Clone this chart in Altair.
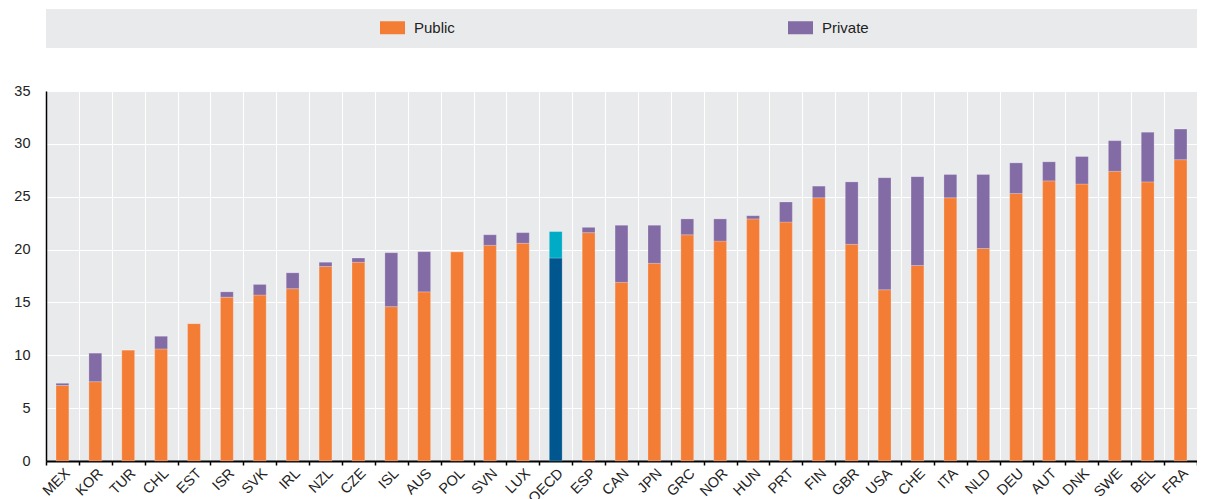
import altair as alt
import pandas as pd

countries = ["MEX", "KOR", "TUR", "CHL", "EST", "ISR", "SVK", "IRL", "NZL", "CZE",
             "ISL", "AUS", "POL", "SVN", "LUX", "OECD", "ESP", "CAN", "JPN", "GRC",
             "NOR", "HUN", "PRT", "FIN", "GBR", "USA", "CHE", "ITA", "NLD", "DEU",
             "AUT", "DNK", "SWE", "BEL", "FRA"]
public = [7.15, 7.5, 10.5, 10.6, 13.0, 15.5, 15.7, 16.3, 18.4, 18.8,
          14.6, 16.0, 19.8, 20.4, 20.6, 19.2, 21.6, 16.9, 18.7, 21.4,
          20.8, 22.9, 22.6, 24.9, 20.5, 16.2, 18.5, 24.9, 20.1, 25.3,
          26.5, 26.2, 27.4, 26.4, 28.5]
private = [0.2, 2.7, 0.0, 1.2, 0.0, 0.5, 1.0, 1.5, 0.4, 0.4,
           5.1, 3.8, 0.0, 1.0, 1.0, 2.5, 0.5, 5.4, 3.6, 1.5,
           2.1, 0.3, 1.9, 1.1, 5.9, 10.6, 8.4, 2.2, 7.0, 2.9,
           1.8, 2.6, 2.9, 4.7, 2.9]
series = ["Public", "Private"]
keys = ["Public", "Private", "OECD Public", "OECD Private"]
colors = ["#F47D36", "#836BA5", "#00568F", "#00ABC6"]

rows = []
for c, pu, pr in zip(countries, public, private):
    prefix = "OECD " if c == "OECD" else ""
    for i, (s, v) in enumerate(zip(series, [pu, pr])):
        rows.append({"country": c, "key": prefix + s, "value": v, "ord": i})
df = pd.DataFrame(rows)

W, H = 1151, 370
FONT = "Liberation Sans"

bg = alt.Chart(pd.DataFrame({"a": [0]})).mark_rect(color="#E9EAEC").encode(
    x=alt.value(0), x2=alt.value(W), y=alt.value(-82), y2=alt.value(-43)
)

bars = alt.Chart(df).mark_bar(
    width=alt.RelativeBandSize(0.39), stroke="#ffffff", strokeWidth=0.6, strokeOpacity=0.35
).encode(
    x=alt.X("country:N", sort=countries, title=None,
            scale=alt.Scale(paddingInner=0, paddingOuter=0),
            axis=alt.Axis(labelAngle=-45, labelAlign="right", labelBaseline="top",
                          tickBand="extent", grid=True, gridColor="#ffffff", gridWidth=1,
                          domainColor="#000000", domainWidth=2, tickColor="#000000",
                          tickSize=4, tickWidth=1.5, labelPadding=1, labelFontSize=14.5,
                          labelColor="#222222", labelFont=FONT)),
    y=alt.Y("value:Q", stack="zero", title=None,
            scale=alt.Scale(domain=[0, 35], nice=False),
            axis=alt.Axis(values=[0, 5, 10, 15, 20, 25, 30, 35], grid=True,
                          gridColor="#ffffff", gridWidth=1, domainColor="#000000",
                          domainWidth=1.5, tickSize=0, labelPadding=16, labelFontSize=14.5,
                          labelColor="#222222", labelFont=FONT)),
    color=alt.Color("key:N", scale=alt.Scale(domain=keys, range=colors),
                    legend=alt.Legend(values=series, title=None, orient="none",
                                      legendX=334, legendY=-76, direction="horizontal",
                                      symbolType="M-1,-0.52H1V0.52H-1Z", symbolSize=625,
                                      symbolStrokeWidth=0, labelFontSize=15, labelFont=FONT,
                                      labelColor="#222222", labelOffset=9,
                                      columnPadding=333, padding=0)),
    order=alt.Order("ord:Q"),
)

chart = alt.layer(bg, bars).properties(
    width=W, height=H,
    autosize=alt.AutoSizeParams(type="none"),
    padding={"left": 38, "top": 83, "right": 0, "bottom": 38},
).configure_view(fill="#E9EAEC", strokeWidth=0)

chart.save("out.html", embed_options={"renderer": "svg", "actions": False})
